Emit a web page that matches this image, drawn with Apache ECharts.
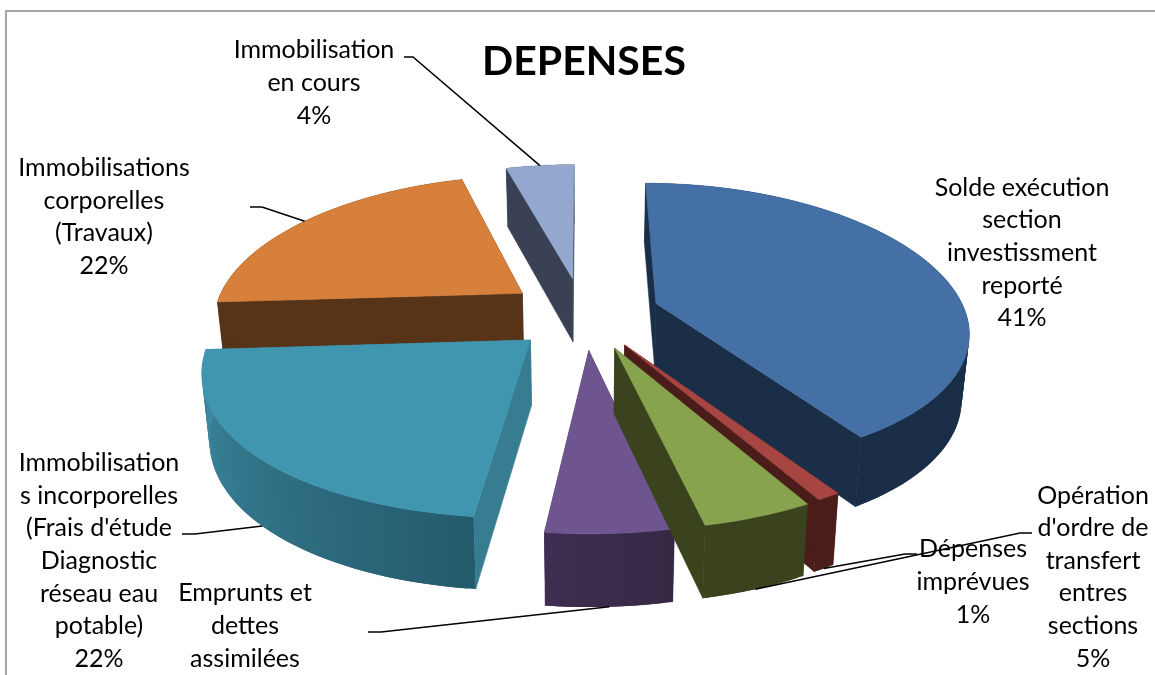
<!DOCTYPE html>
<html><head><meta charset="utf-8">
<style>html,body{margin:0;padding:0;background:#fff;overflow:hidden}#c{width:1155px;height:675px}</style>
<script src="https://cdn.jsdelivr.net/npm/echarts@6/dist/echarts.min.js"></script>
</head><body><div id="c"></div>
<script>
// ---- data ----
const categories = [
  "Solde exécution\nsection\ninvestissment\nreporté",
  "Dépenses\nimprévues",
  "Opération\nd'ordre de\ntransfert\nentres\nsections",
  "Emprunts et\ndettes\nassimilées",
  "Immobilisation\ns incorporelles\n(Frais d'étude\nDiagnostic\nréseau eau\npotable)",
  "Immobilisations\ncorporelles\n(Travaux)",
  "Immobilisation\nen cours"
];
const values = [41, 1, 4.6, 5.2, 22.2, 21.7, 4.3];
const showPercent = [true, true, true, false, true, true, true];
const titleText = "DEPENSES";

// ---- styles ----
const topColors  = ["#4470a5","#a64541","#87a34d","#6f5590","#3f96ae","#d7803c","#93a7cf"];
const wallColors = ["#1a2e47","#4a1d1b","#3a431e","#3a2c4d","#377c91","#573418","#3a4154"];
const arcWall = [
  ["#1a2e47","#1a2e47"],["#4a1d1b","#4a1d1b"],["#3a431e","#3a431e"],["#362845","#3d2e52"],
  ["#245b6c","#3f8ba3"],["#573418","#573418"],["#3a4154","#3a4154"]
];
const drawOrder = [6,5,4,3,0,1,2];

// ---- layout of the projected pie ----
const P = {cx:585, cy:315, f:310, g:141.5, kx:0.18, ky:0.1525, ex:0.235, ey:0.27, depth:64.5, depthGrow:0.04, converge:0.02};
const sliceNudge = [[2,-1],[1,-4],[3,-4],[0,-4],[0,-2],[-5,0],[-3,0]];
const labelPos = [[1022,253],[973,582],[1093,577],[245,626],[99,561],[104,217],[314,83]];
const labelLines = [null,[[905,554],[917,554]],[[1020,533],[1032,533]],[[381,632],[368,632]],[[195,534],[182,534]],[[262,207],[250,207]],[[413,57],[404,57]]];
const bottomAnchor = [false,true,true,true,true,false,false];

const total = values.reduce((a,b)=>a+b,0);
let acc = 0;
const slices = values.map(v=>{const s=acc/total*2*Math.PI; acc+=v; return {a0:s,a1:acc/total*2*Math.PI};});

function upper(a,r,mid,nudge){ // world point -> screen, upper face
  const X = r*Math.sin(a)+P.ex*Math.sin(mid), Y = -r*Math.cos(a)-P.ey*Math.cos(mid);
  return [P.cx+P.f*X/(1-P.kx*Y)+nudge[0], P.cy+P.g*Y/(1-P.ky*Y)+nudge[1]];
}
function lower(p){ // extrude downwards
  return [P.cx+(p[0]-P.cx)*(1-P.converge), p[1]+P.depth+P.depthGrow*(p[1]-P.cy)];
}
function poly(points,fill,z2,noStroke){
  return {type:'polygon',z2,shape:{points},style:noStroke?{fill}:{fill,stroke:fill,lineWidth:0.6}};
}
function renderItem(params,api){
  const i = api.value(0), s = slices[i], nudge = sliceNudge[i];
  const mid=(s.a0+s.a1)/2, base=drawOrder.indexOf(i)*10;
  const n=Math.max(4,Math.ceil((s.a1-s.a0)/0.02));
  const arc=[]; for(let t=0;t<=n;t++) arc.push(upper(s.a0+(s.a1-s.a0)*t/n,1,mid,nudge));
  const tip=upper(0,0,mid,nudge), a=arc[0], b=arc[n];
  const children=[];
  const cut=(p,q)=>poly([p,q,lower(q),lower(p)],wallColors[i],base);
  children.push(cut(tip,a),cut(tip,b));
  const g=arcWall[i];
  for(let t=0;t<n;t++){ // strips overlap the next one so that no seam shows
    const col=echarts.color.lerp((t+0.5)/n,g);
    const e=arc[Math.min(t+2,n)];
    children.push(poly([arc[t],e,lower(e),lower(arc[t])],col,base+1,true));
  }
  children.push(poly([tip].concat(arc),topColors[i],base+2));
  const ll=labelLines[i];
  if(ll){
    let m=upper(mid,1,mid,nudge); if(bottomAnchor[i]) m=lower(m);
    children.push({type:'polyline',z2:200,shape:{points:[m].concat(ll)},style:{stroke:'#000',lineWidth:1.5,fill:null}});
  }
  const txt=categories[i]+(showPercent[i]?"\n"+Math.round(values[i])+"%":"");
  children.push({type:'text',z2:190,x:labelPos[i][0],y:labelPos[i][1],style:{
    text:txt,fill:'#000',font:'25px Lato',align:'center',verticalAlign:'middle',lineHeight:32.6}});
  return {type:'group',children};
}
const chart=echarts.init(document.getElementById('c'));
chart.setOption({
  animation:false,backgroundColor:'#fff',
  title:{text:titleText,left:579,top:36,textAlign:'center',textStyle:{fontFamily:'Lato',fontWeight:'bold',fontSize:41,color:'#000'}},
  graphic:[
    {type:'polyline',shape:{points:[[6,676],[6,11],[1155,11]]},style:{stroke:'#a6a6a6',lineWidth:2,fill:null}}
  ],
  series:[{type:'custom',coordinateSystem:'none',renderItem,data:values.map((v,i)=>[i,v]),encode:{value:1},silent:true}]
});
</script></body></html>
